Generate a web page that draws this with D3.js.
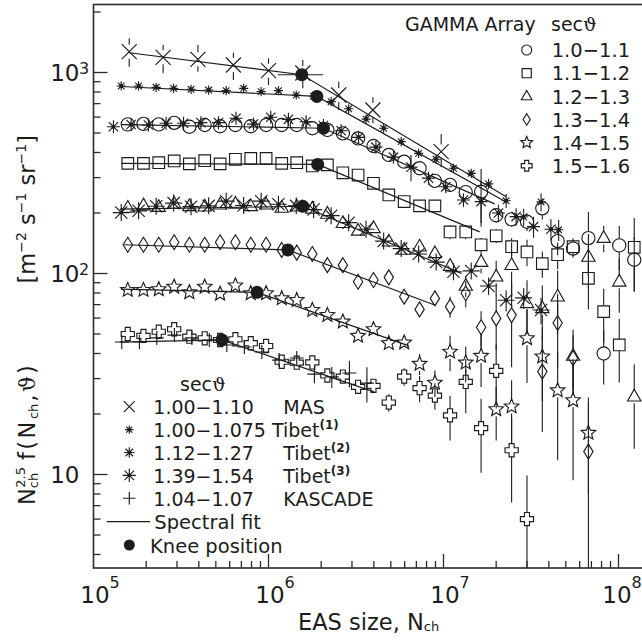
<!DOCTYPE html>
<html>
<head>
<meta charset="utf-8">
<script src="https://cdn.jsdelivr.net/npm/d3@7"></script>
<style>
body { margin: 0; background: #fff; }
text { font-family: "DejaVu Sans", sans-serif; fill: #1c1c1c; }
.theta { font-family: "DejaVu Serif", serif; }
</style>
</head>
<body>
<svg width="642" height="643"></svg>
<script>
// EAS size bins of the GAMMA array (shared by all six sec(theta) bins)
var gammaN = [1.57e5, 1.93e5, 2.36e5, 2.89e5, 3.53e5, 4.32e5, 5.29e5, 6.47e5, 7.92e5, 9.69e5,
              1.19e6, 1.45e6, 1.78e6, 2.17e6, 2.66e6, 3.25e6, 3.98e6, 4.87e6, 5.96e6, 7.30e6,
              8.93e6, 1.09e7, 1.34e7, 1.64e7, 2.00e7, 2.45e7, 3.00e7, 3.67e7, 4.49e7, 5.50e7,
              6.73e7, 8.23e7, 1.01e8, 1.23e8];

// N^2.5 f(N) per sec bin, null = no point; *Err = relative error bar
var g10 = [552, 555, 552, 562, 537, 548, 540, 548, 540, 548, 548, 548, 528, 518, 498, 470, 431, 389, 360, 334,
           289, 276, 254, 255, 195, 186, 181, 211, 145, 133, 150, 40, 138, 117];
var g10Err = [0, 0, 0, 0, 0, 0, 0, 0, 0, 0, 0, 0, 0, 0, 0, 0, 0, 0, 0, 0,
              0, 0, 0.08, 0.3, 0.08, 0.08, 0.1, 0.12, 0.15, 0.1, 0.35, 0.3, 0.25, 0.3];
var g11 = [353, 353, 356, 363, 351, 364, 351, 370, 374, 374, 353, 356, 343, 347, 317, 309, 281, 246, 228, 217,
           217, 161, 161, 139, 154, 136, 128, 112, 124, 136, 94.7, 64.6, 44.1, 135];
var g11Err = [0, 0, 0, 0, 0, 0, 0, 0, 0, 0, 0, 0, 0, 0, 0, 0, 0, 0, 0, 0,
              0.05, 0.08, 0.08, 0.08, 0.08, 0.1, 0.15, 0.15, 0.15, 0.1, 0.3, 0.3, 0.35, 0.4];
var g12 = [212, 218, 214, 222, 216, 215, 220, 222, 216, 220, 212, 215, 210, 198, 178, 163, 168, 144, 131, 136,
           126, 109, 86.7, 114, 96.4, 110, 71.1, 67.1, 76.7, 38.9, 121, 150, 91, 24.4];
var g12Err = [0, 0, 0, 0, 0, 0, 0, 0, 0, 0, 0, 0, 0, 0, 0, 0, 0, 0, 0, 0,
              0, 0.08, 0.12, 0.12, 0.2, 0.3, 0.3, 0.3, 0.35, 0.35, 0.3, 0.15, 0.3, 0.45];
var g13 = [139, 139, 139, 143, 139, 139, 143, 143, 139, 139, 131, 127, 125, 110, 110, 91, 92.8, 95.7, 76.7, 66.3,
           75.2, 68.4, 79.7, 54, 59.8, 62.1, null, 32.5, 56.7, 37.9, 13.0, null, null, null];
var g13Err = [0, 0, 0, 0, 0, 0, 0, 0, 0, 0, 0, 0, 0, 0, 0, 0, 0, 0.05, 0.05, 0.08,
              0.08, 0.12, 0.15, 0.2, 0.3, 0.45, 0, 0.5, 0.4, 0.3, 0.75, 0, 0, 0];
var g14 = [82.8, 82.8, 83.4, 85.9, 80.6, 85.9, 79.2, 87.1, 79.7, 79.7, 75.2, 73.7, 65.8, 62.1, 57.6, 48.9, 52.8, 45, 45.3, 35.5,
           28.6, 40.8, 36, 38.9, 21.1, 21.8, 47.6, 38.6, 26.2, 23.4, 16.1, null, null, null];
var g14Err = [0, 0, 0, 0, 0, 0, 0, 0, 0, 0, 0, 0, 0, 0, 0, 0.05, 0.05, 0.06, 0.08, 0.12,
              0.15, 0.2, 0.2, 0.3, 0.3, 0.35, 0.4, 0.4, 0.55, 0.6, 0.5, 0, 0, 0];
var g15 = [50, 48.9, 51.3, 52.8, 48.5, 47.6, 46.7, 47.1, 45, 43.6, 36.4, 36, 36.1, 31.1, 30.7, 27.3, 27.6, 22.8, 30.7, 26.9,
           24.7, 19.7, 28.9, 17, 32.8, 13.2, 6.0, null, null, null, null, null, null, null];
var g15Err = [0, 0, 0, 0, 0, 0, 0, 0, 0, 0, 0, 0, 0, 0.05, 0.05, 0.06, 0.06, 0.1, 0.1, 0.15,
              0.15, 0.25, 0.3, 0.4, 0.35, 0.45, 0.65, 0, 0, 0, 0, 0, 0, 0];

// MAS
var masN = [1.6e5, 2.5e5, 3.95e5, 6.3e5, 1.0e6, 1.57e6, 2.52e6, 3.95e6, 9.7e6];
var masV = [1269, 1190, 1163, 1090, 1021, 994, 773, 651, 404];
var masLo = [1069, 991, 1009, 918, 867, 834, 651, 559, 338];
var masHi = [1479, 1370, 1370, 1255, 1177, 1154, 900, 753, 494];

// Tibet
var tib1N = [1.44e5, 1.81e5, 2.28e5, 2.87e5, 3.61e5, 4.55e5, 5.73e5, 7.21e5, 9.08e5, 1.14e6, 1.44e6, 1.81e6, 2.28e6,
             2.87e6, 3.61e6, 4.55e6, 5.73e6, 7.21e6, 9.08e6, 1.14e7, 1.44e7, 1.81e7, 2.28e7, 2.87e7, 3.61e7, 4.55e7];
var tib1V = [857, 857, 844, 834, 825, 818, 812, 834, 803, 812, 773, 764, 716, 660, 586, 528, 453, 396, 370, 334,
             315, 279, 230, 191, 227, 165];
var tib1Err = [0, 0, 0, 0, 0, 0, 0, 0, 0, 0, 0, 0, 0, 0, 0, 0, 0, 0, 0, 0.05, 0.05, 0.06, 0.08, 0.1, 0.1, 0.12];
var tib2N = [1.30e5, 1.64e5, 2.06e5, 2.60e5, 3.27e5, 4.11e5, 5.18e5, 6.52e5, 8.21e5, 1.03e6, 1.30e6, 1.64e6, 2.06e6,
             2.60e6, 3.27e6, 4.11e6, 5.18e6, 6.52e6, 8.21e6, 1.03e7, 1.30e7, 1.64e7, 2.06e7, 2.60e7, 3.27e7, 4.11e7];
var tib2V = [537, 551, 548, 559, 559, 563, 563, 592, 554, 599, 585, 569, 545, 513, 476, 425, 379, 338, 298, 270,
             232, 228, 200, 192, 171, 166];
var tib2Err = [0, 0, 0, 0, 0, 0, 0, 0, 0, 0, 0, 0, 0, 0, 0, 0, 0.06, 0.15, 0.06, 0.06, 0.08, 0.25, 0.1, 0.1, 0.12, 0.12];
var tib3N = [1.44e5, 1.81e5, 2.28e5, 2.87e5, 3.61e5, 4.55e5, 5.73e5, 7.21e5, 9.08e5, 1.14e6, 1.44e6, 1.81e6, 2.28e6,
             2.87e6, 3.61e6, 4.55e6, 5.73e6, 7.21e6, 9.08e6, 1.14e7, 1.44e7, 1.81e7, 2.28e7, 2.87e7, 3.61e7];
var tib3V = [201, 205, 216, 224, 215, 217, 229, 218, 229, 221, 217, 208, 194, 179, 166, 145, 133, 125, 114, 102,
             103, 86.7, 73.6, 75.7, 65.8];
var tib3Err = [0, 0, 0, 0, 0, 0, 0, 0, 0, 0, 0, 0, 0, 0, 0, 0, 0, 0, 0.05, 0.05, 0.06, 0.1, 0.12, 0.12, 0.15];

// KASCADE
var kasN = [1.45e5, 1.83e5, 2.30e5, 2.90e5, 3.65e5, 4.59e5, 5.78e5, 7.28e5, 9.16e5, 1.15e6, 1.45e6, 1.83e6, 2.30e6, 2.90e6, 3.65e6];
var kasV = [45.6, 45.6, 47.8, 49.4, 47.8, 46.7, 44.1, 43.1, 40.7, 37.1, 38, 31.6, 30.6, 32, 28.5];
var kasErr = [0, 0, 0, 0, 0, 0, 0, 0, 0, 0.05, 0.06, 0.1, 0.12, 0.15, 0.2];

// spectral fits: [N, value] at start, knee, end
var fitMAS = [[1.6e5, 1254], [1.55e6, 975], [2.28e7, 241]];
var fitTib1 = [[1.44e5, 852], [1.89e6, 760], [2.28e7, 227]];
var fitG10 = [[1.45e5, 551], [2.06e6, 528], [1.96e7, 222]];
var fitG11 = [[1.44e5, 353], [1.91e6, 349], [1.61e7, 161]];
var fitG12 = [[1.41e5, 209], [1.57e6, 216], [1.27e7, 100]];
var fitG13 = [[1.50e5, 139], [1.29e6, 131], [8.9e6, 69.7]];
var fitG14 = [[1.44e5, 83.7], [8.6e5, 80.6], [6.3e6, 43.8]];
var fitG15 = [[1.41e5, 45.6], [5.42e5, 46.7], [4.04e6, 25.7]];

// knee positions
var kneeN = [1.55e6, 1.89e6, 2.06e6, 1.91e6, 1.57e6, 1.29e6, 8.6e5, 5.42e5];
var kneeV = [975, 760, 528, 349, 216, 131, 80.6, 46.7];
var masKneeRange = [1.13e6, 2.05e6];

// legends
var gammaLabels = ["1.0\u22121.1", "1.1\u22121.2", "1.2\u22121.3", "1.3\u22121.4", "1.4\u22121.5", "1.5\u22121.6"];
var gammaShapes = ["circle", "square", "triangle", "diamond", "star", "gcross"];
var otherRanges = ["1.00\u22121.10", "1.00\u22121.075", "1.12\u22121.27", "1.39\u22121.54", "1.04\u22121.07"];
var otherNames = ["MAS", "Tibet", "Tibet", "Tibet", "KASCADE"];
var otherSups = ["", "(1)", "(2)", "(3)", ""];

var ink = "#1c1c1c";
var pL = 93.5, pR = 648, pT = 4.5, pB = 568;

var svg = d3.select("svg");
var x = d3.scaleLog().domain([1e5, 1e8]).range([93.5, 618.5]);
var y = d3.scaleLog().domain([10, 1000]).range([474.5, 72.5]);

svg.append("clipPath").attr("id", "plotclip").append("rect")
    .attr("x", pL).attr("y", pT).attr("width", pR - pL).attr("height", pB - pT);

function markerPath(type, s) {
    if (type == "circle") return "M" + s + ",0A" + s + "," + s + " 0 1,1 " + (-s) + ",0A" + s + "," + s + " 0 1,1 " + s + ",0Z";
    if (type == "square") return "M" + (-s) + "," + (-s) + "H" + s + "V" + s + "H" + (-s) + "Z";
    if (type == "triangle") return "M0," + (-s * 1.05) + "L" + (s * 0.95) + "," + (s * 0.62) + "L" + (-s * 0.95) + "," + (s * 0.62) + "Z";
    if (type == "diamond") return "M0," + (-s * 1.15) + "L" + (s * 0.72) + ",0L0," + (s * 1.15) + "L" + (-s * 0.72) + ",0Z";
    if (type == "star") {
        var pts = [];
        for (var i = 0; i < 10; i++) {
            var r = i % 2 ? s * 0.45 : s;
            var a = -Math.PI / 2 + i * Math.PI / 5;
            pts.push([(r * Math.cos(a)).toFixed(2), (r * Math.sin(a)).toFixed(2)]);
        }
        return "M" + pts.join("L") + "Z";
    }
    if (type == "gcross") {
        var c = s * 0.38;
        return "M" + (-c) + "," + (-s) + "H" + c + "V" + (-c) + "H" + s + "V" + c + "H" + c + "V" + s +
            "H" + (-c) + "V" + c + "H" + (-s) + "V" + (-c) + "H" + (-c) + "Z";
    }
    if (type == "x") return "M" + (-s) + "," + (-s) + "L" + s + "," + s + "M" + (-s) + "," + s + "L" + s + "," + (-s);
    if (type == "plus") return "M" + (-s) + ",0H" + s + "M0," + (-s) + "V" + s;
    if (type == "aster") {
        var d = s * 0.72;
        return "M" + (-s) + ",0H" + s + "M0," + (-s) + "V" + s +
            "M" + (-d) + "," + (-d) + "L" + d + "," + d + "M" + (-d) + "," + d + "L" + d + "," + (-d);
    }
}

function putMarker(parent, type, s, cx, cy, dot) {
    parent.append("path")
        .attr("d", markerPath(type, s))
        .attr("transform", "translate(" + cx + "," + cy + ")")
        .attr("fill", "none")
        .attr("stroke", ink)
        .attr("stroke-width", 1.15);
    if (dot) {
        parent.append("circle").attr("cx", cx).attr("cy", cy).attr("r", dot).attr("fill", ink);
    }
}

function vbar(parent, cx, y1, y2) {
    parent.append("line")
        .attr("x1", cx).attr("x2", cx).attr("y1", y1).attr("y2", y2)
        .attr("stroke", ink).attr("stroke-width", 1.1);
}

var plot = svg.append("g").attr("clip-path", "url(#plotclip)");

// fit lines
var fitLine = d3.line().x(function (d) { return x(d[0]); }).y(function (d) { return y(d[1]); });
[fitMAS, fitTib1, fitG10, fitG11, fitG12, fitG13, fitG14, fitG15].forEach(function (f) {
    plot.append("path").attr("d", fitLine(f)).attr("fill", "none").attr("stroke", ink).attr("stroke-width", 1.2);
});

function drawSeries(Ns, Vs, errs, type, s, gap, dot) {
    Vs.forEach(function (v, i) {
        if (v == null) return;
        var cx = x(Ns[i]), cy = y(v);
        var e = errs ? errs[i] : 0;
        if (e > 0) {
            var yHi = y(v * (1 + e));
            var yLo = v * (1 - e) > 0.05 ? y(v * (1 - e)) : pB + 20;
            if (cy - yHi > gap) vbar(plot, cx, cy - gap, yHi);
            if (yLo - cy > gap) vbar(plot, cx, cy + gap, yLo);
        }
        putMarker(plot, type, s, cx, cy, dot);
    });
}

drawSeries(gammaN, g10, g10Err, "circle", 6.6, 6.6);
drawSeries(gammaN, g11, g11Err, "square", 5.8, 5.8);
drawSeries(gammaN, g12, g12Err, "triangle", 7, 6.5);
drawSeries(gammaN, g13, g13Err, "diamond", 6.5, 7.5);
drawSeries(gammaN, g14, g14Err, "star", 7.6, 7);
drawSeries(gammaN, g15, g15Err, "gcross", 6.6, 6.6);
drawSeries(tib3N, tib3V, tib3Err, "aster", 8.5, 8.5, 1.8);
drawSeries(tib2N, tib2V, tib2Err, "aster", 6.5, 6.5, 2);
drawSeries(tib1N, tib1V, tib1Err, "aster", 4.6, 4.6, 2);
drawSeries(kasN, kasV, kasErr, "plus", 7, 7);

// MAS with absolute error bars
masV.forEach(function (v, i) {
    var cx = x(masN[i]), cy = y(v);
    vbar(plot, cx, cy - 7, y(masHi[i]));
    vbar(plot, cx, cy + 7, y(masLo[i]));
    putMarker(plot, "x", 7.5, cx, cy);
});

// knee positions
plot.append("line")
    .attr("x1", x(masKneeRange[0])).attr("x2", x(masKneeRange[1]))
    .attr("y1", y(kneeV[0])).attr("y2", y(kneeV[0]))
    .attr("stroke", ink).attr("stroke-width", 1.1);
kneeV.forEach(function (v, i) {
    plot.append("circle").attr("cx", x(kneeN[i])).attr("cy", y(v)).attr("r", 6.5).attr("fill", ink);
});

// frame
svg.append("rect")
    .attr("x", pL).attr("y", pT).attr("width", pR - pL).attr("height", pB - pT)
    .attr("fill", "none").attr("stroke", "#2a2a2a").attr("stroke-width", 1.6);

function isMajor(t) {
    var l = Math.log10(t);
    return Math.abs(l - Math.round(l)) < 1e-6;
}

// x ticks and labels
var xFull = x.copy().domain([0.999e5, x.invert(pR)]).range([x(0.999e5), pR]);
var xTicks = xFull.ticks();
xTicks.forEach(function (t) {
    var px = x(t);
    if (px < pL + 1 || px > pR) return;
    var len = isMajor(t) ? 14 : 7;
    svg.append("line").attr("x1", px).attr("x2", px).attr("y1", pB).attr("y2", pB - len)
        .attr("stroke", "#2a2a2a").attr("stroke-width", 1.3);
});
xTicks.filter(isMajor).forEach(function (t) {
    var lx = Math.min(x(t) + 1.5, 617);
    svg.append("text").attr("x", lx).attr("y", 602.5).attr("text-anchor", "middle")
        .style("font-size", "23px").text("10");
    svg.append("text").attr("x", lx + 14.5).attr("y", 588).style("font-size", "16px")
        .text(Math.round(Math.log10(t)));
});

// y ticks and labels
var yFull = y.copy().domain([y.invert(pB), y.invert(pT)]).range([pB, pT]);
var yTicks = yFull.ticks();
yTicks.forEach(function (t) {
    var py = y(t);
    if (py > pB - 1 || py < pT + 1) return;
    var len = isMajor(t) ? 14 : 7;
    svg.append("line").attr("x1", pL).attr("x2", pL + len).attr("y1", py).attr("y2", py)
        .attr("stroke", "#2a2a2a").attr("stroke-width", 1.3);
});
yTicks.filter(isMajor).forEach(function (t) {
    var py = y(t);
    var ex = Math.round(Math.log10(t));
    svg.append("text").attr("x", 79.5).attr("y", py + 8.5).attr("text-anchor", "end")
        .style("font-size", "23px").text("10");
    if (ex != 1) {
        svg.append("text").attr("x", 79).attr("y", py + 1).style("font-size", "16px").text(ex);
    }
});

// axis titles
var xt = svg.append("text").attr("x", 298).attr("y", 630).style("font-size", "22.5px");
xt.append("tspan").text("EAS size, N");
xt.append("tspan").attr("dy", 1).style("font-size", "13px").text("ch");

var yt1 = svg.append("text").attr("transform", "translate(35,505) rotate(-90)").style("font-size", "22.5px");
yt1.append("tspan").text("N");
yt1.append("tspan").attr("dy", 3).style("font-size", "13px").text("ch");
yt1.append("tspan").attr("dx", -15).attr("dy", -13).style("font-size", "13px").text("2.5");
yt1.append("tspan").attr("dx", 7).attr("dy", 10).style("letter-spacing", "2.5px").text("f(N");
yt1.append("tspan").attr("dy", 3).style("font-size", "13px").text("ch");
yt1.append("tspan").attr("dx", 2).attr("dy", -3).style("letter-spacing", "2.5px").text(",");
yt1.append("tspan").attr("class", "theta").text("\u03d1");
yt1.append("tspan").attr("dx", 2).text(")");

var yt2 = svg.append("text").attr("transform", "translate(35,135) rotate(-90)")
    .attr("text-anchor", "end").style("font-size", "22.5px");
yt2.append("tspan").text("[m");
yt2.append("tspan").attr("dy", -9).style("font-size", "14px").text("\u22122");
yt2.append("tspan").attr("dy", 9).text(" s");
yt2.append("tspan").attr("dy", -9).style("font-size", "14px").text("\u22121");
yt2.append("tspan").attr("dy", 9).text(" sr");
yt2.append("tspan").attr("dy", -9).style("font-size", "14px").text("\u22121");
yt2.append("tspan").attr("dy", 9).text("]");

// GAMMA legend (top right)
svg.append("text").attr("x", 405).attr("y", 30.7).style("font-size", "19px").text("GAMMA Array");
var sh = svg.append("text").attr("x", 551).attr("y", 30.7).style("font-size", "19px");
sh.append("tspan").text("sec");
sh.append("tspan").attr("class", "theta").text("\u03d1");
var gammaSizes = [5, 4.6, 5.6, 5, 6.2, 5.4];
gammaLabels.forEach(function (lab, i) {
    var cy = 50 + 23.15 * i;
    putMarker(svg, gammaShapes[i], gammaSizes[i], 526.7, cy);
    svg.append("text").attr("x", 551.7).attr("y", cy + 7.3).style("font-size", "19.5px").text(lab);
});

// other experiments legend (bottom left)
var sb = svg.append("text").attr("x", 180).attr("y", 391).style("font-size", "19px");
sb.append("tspan").text("sec");
sb.append("tspan").attr("class", "theta").text("\u03d1");
var otherShapes = ["x", "aster", "aster", "aster", "plus"];
var otherSizes = [5.5, 4.2, 5.2, 6.6, 6.2];
var otherDots = [0, 1.8, 1.8, 1.6, 0];
otherRanges.forEach(function (r, i) {
    var cy = 406.7 + 22.9 * i;
    putMarker(svg, otherShapes[i], otherSizes[i], 129.3, cy, otherDots[i]);
    if (i == 1) {
        var t = svg.append("text").attr("x", 153.3).attr("y", cy + 7.5).style("font-size", "19px");
        t.append("tspan").text(r + " " + otherNames[i]);
        t.append("tspan").attr("dy", -8).style("font-size", "12px").style("font-weight", "bold").text(otherSups[i]);
    } else {
        svg.append("text").attr("x", 153.3).attr("y", cy + 7.5).style("font-size", "19px").text(r);
        var n = svg.append("text").attr("x", 283.3).attr("y", cy + 7.5).style("font-size", "19px");
        n.append("tspan").text(otherNames[i]);
        if (otherSups[i]) n.append("tspan").attr("dy", -8).style("font-size", "12px").style("font-weight", "bold").text(otherSups[i]);
    }
});
svg.append("line").attr("x1", 106.7).attr("x2", 150).attr("y1", 521.7).attr("y2", 521.7)
    .attr("stroke", ink).attr("stroke-width", 1.2);
svg.append("text").attr("x", 154.3).attr("y", 529.2).style("font-size", "19.5px").text("Spectral fit");
svg.append("circle").attr("cx", 129.3).attr("cy", 545).attr("r", 5.5).attr("fill", ink);
svg.append("text").attr("x", 150).attr("y", 552.5).style("font-size", "19.5px").text("Knee position");
</script>
</body>
</html>
